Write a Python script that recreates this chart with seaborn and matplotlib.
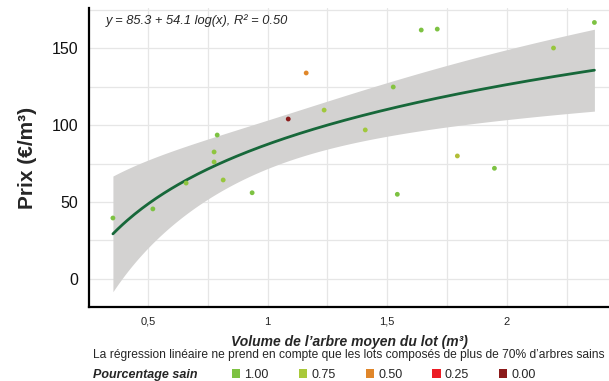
#!/usr/bin/env python3
# -*- coding: utf-8 -*-
"""Prix du bois en fonction du volume de l'arbre moyen du lot."""

import matplotlib
matplotlib.use('Agg')
import matplotlib.pyplot as plt
import seaborn as sns
import numpy as np
import pandas as pd
from matplotlib.colors import LinearSegmentedColormap
from matplotlib.patches import Patch
from matplotlib.ticker import MultipleLocator, FuncFormatter

# Données
volume = [0.353, 0.520, 0.659, 0.776, 0.776, 0.789, 0.814, 0.935, 1.086, 1.161,
          1.236, 1.408, 1.525, 1.542, 1.642, 1.709, 1.793, 1.948, 2.195, 2.366]
prix = [39.6, 45.5, 62.3, 76.0, 82.5, 93.5, 64.3, 56.0, 103.9, 133.8,
        109.7, 96.8, 124.7, 55.0, 161.7, 162.3, 79.9, 71.9, 150.0, 166.6]
sain = [1.00, 1.00, 0.90, 0.90, 0.90, 1.00, 0.85, 1.00, 0.00, 0.50,
        0.80, 0.80, 0.95, 1.00, 1.00, 1.00, 0.71, 1.00, 0.85, 1.00]

legend_values = [1.00, 0.75, 0.50, 0.25, 0.00]
legend_colors = ['#7dc242', '#a9c93a', '#e0862a', '#ec1c24', '#8b1a1a']
x_ticks = [0.5, 1, 1.5, 2]
y_ticks = [0, 50, 100, 150]

annotation = 'y = 85.3 + 54.1 log(x), R² = 0.50'
caption = ('La régression linéaire ne prend en compte que les lots composés '
           'de plus de 70% d’arbres sains')

sns.set_style('white')
plt.rcParams['font.family'] = ['Liberation Sans', 'DejaVu Sans']


def t_quantile(dof):
    """Quantile 97.5% de Student."""
    try:
        from scipy import stats
        return stats.t.ppf(0.975, dof)
    except ImportError:
        return 2.12


def log_fit(x, y, grid):
    """Régression y ~ log(x) avec intervalle de confiance à 95%."""
    lx = np.log(x)
    X = np.column_stack([np.ones_like(lx), lx])
    coef, *_ = np.linalg.lstsq(X, y, rcond=None)
    resid = y - X @ coef
    dof = len(y) - 2
    s2 = resid @ resid / dof
    G = np.column_stack([np.ones_like(grid), np.log(grid)])
    cov = np.linalg.inv(X.T @ X)
    se = np.sqrt(s2 * np.einsum('ij,jk,ik->i', G, cov, G))
    fit = G @ coef
    t = t_quantile(dof)
    return fit, fit - t * se, fit + t * se


def main():
    df = pd.DataFrame({'volume': volume, 'prix': prix, 'sain': sain})
    cmap = LinearSegmentedColormap.from_list(
        'sain', list(zip(legend_values[::-1], legend_colors[::-1])))

    fig = plt.figure(figsize=(6.09, 3.81), dpi=100)
    ax = fig.add_axes([89 / 609, 1 - 307 / 381, 1 - 89 / 609, (307 - 8) / 381])

    # Régression log sur les lots > 70% sains
    sel = df[df['sain'] >= 0.7]
    grid = np.linspace(sel['volume'].min(), sel['volume'].max(), 200)
    fit, lo, hi = log_fit(sel['volume'].values, sel['prix'].values, grid)
    ax.fill_between(grid, lo, hi, color='#d3d2d1', lw=0, zorder=2)
    sns.lineplot(x=grid, y=fit, color='#17683a', lw=2.0, zorder=3, ax=ax)

    sns.scatterplot(data=df, x='volume', y='prix', hue='sain', palette=cmap,
                    hue_norm=(0, 1), s=12, linewidth=0, legend=False,
                    zorder=4, ax=ax)

    ax.set_xlim(0.253, 2.427)
    ax.set_ylim(-18.2, 176)
    ax.set_xticks(x_ticks)
    ax.set_yticks(y_ticks)
    ax.xaxis.set_minor_locator(MultipleLocator(0.25))
    ax.yaxis.set_minor_locator(MultipleLocator(25))
    ax.xaxis.set_major_formatter(FuncFormatter(lambda v, p: f'{v:g}'.replace('.', ',')))
    ax.grid(which='both', color='#e6e6e6', lw=0.9)
    ax.set_axisbelow(True)
    ax.tick_params(which='both', length=0)
    ax.tick_params(axis='x', labelsize=8, pad=7, labelcolor='#222222')
    ax.tick_params(axis='y', labelsize=11.5, pad=8, labelcolor='#111111')

    for side in ['top', 'right']:
        ax.spines[side].set_visible(False)
    for side in ['left', 'bottom']:
        ax.spines[side].set_color('black')
        ax.spines[side].set_linewidth(1.6)

    ax.set_xlabel('Volume de l’arbre moyen du lot (m³)', fontsize=10,
                  fontweight='bold', fontstyle='italic', labelpad=6)
    ax.set_ylabel('Prix (€/m³)', fontsize=15, fontweight='bold', labelpad=10)

    ax.text(106 / 609, 1 - 21 / 381, annotation, transform=fig.transFigure,
            fontsize=9.3, fontstyle='italic', va='center', ha='left')

    fig.text(93 / 609, 1 - 355 / 381, caption, fontsize=8.65,
             va='center', ha='left')
    fig.text(93 / 609, 1 - 375 / 381, 'Pourcentage sain', fontsize=9,
             fontweight='bold', fontstyle='italic', va='center', ha='left')

    handles = [Patch(facecolor=c, edgecolor='none') for c in legend_colors]
    labels = [f'{v:.2f}' for v in legend_values]
    fig.legend(handles, labels, ncol=5, loc='center left',
               bbox_to_anchor=(232 / 609, 1 - 375 / 381), frameon=False,
               fontsize=9, handlelength=0.65, handleheight=0.65,
               handletextpad=0.35, columnspacing=2.4, borderpad=0,
               borderaxespad=0)

    fig.savefig('out.png', dpi=100)
    plt.close(fig)


if __name__ == '__main__':
    main()
